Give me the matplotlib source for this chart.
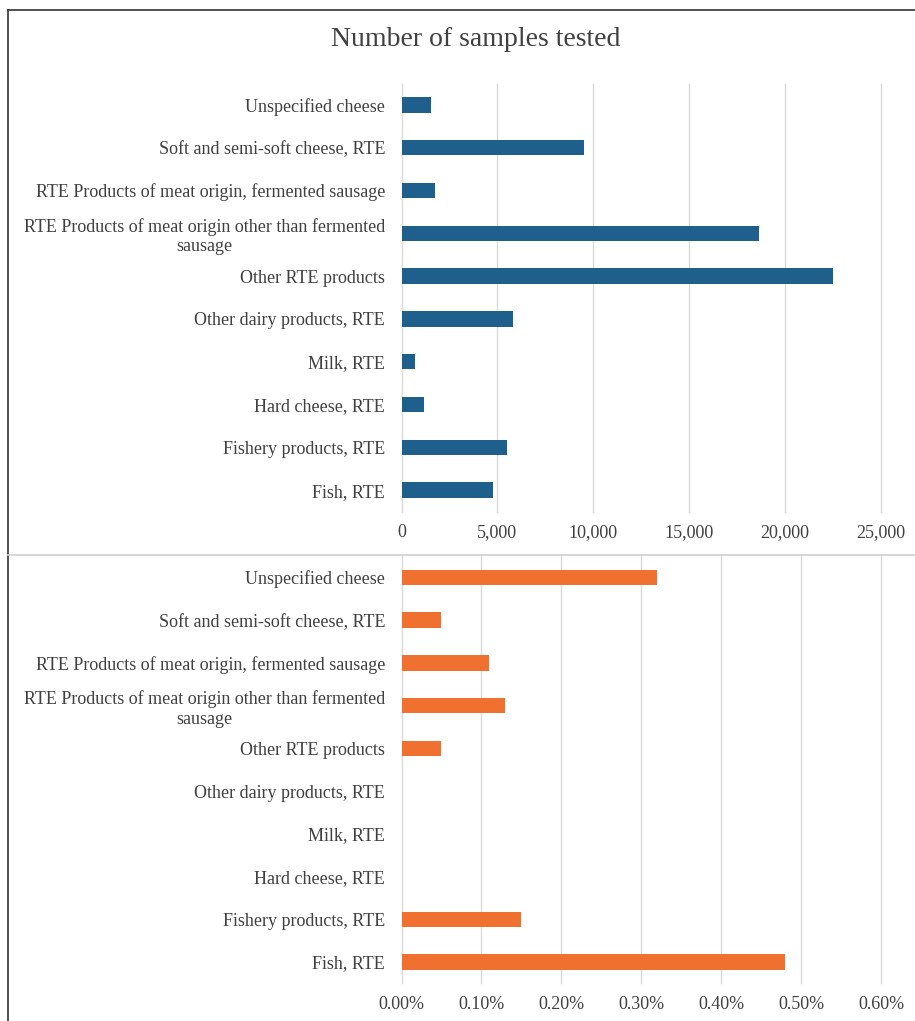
import numpy as np
import matplotlib
matplotlib.use("Agg")
import matplotlib.pyplot as plt
from matplotlib.ticker import FuncFormatter
from matplotlib.lines import Line2D

# categories, bottom to top (as drawn by Excel)
categories = [
    "Fish, RTE",
    "Fishery products, RTE",
    "Hard cheese, RTE",
    "Milk, RTE",
    "Other dairy products, RTE",
    "Other RTE products",
    "RTE Products of meat origin other than fermented\nsausage",
    "RTE Products of meat origin, fermented sausage",
    "Soft and semi-soft cheese, RTE",
    "Unspecified cheese",
]
samples_tested = [4770, 5500, 1180, 730, 5800, 22500, 18650, 1760, 9540, 1560]
positive_pct = [0.48, 0.15, 0.0, 0.0, 0.0, 0.05, 0.13, 0.11, 0.05, 0.32]

plt.rcParams['font.family'] = ['Liberation Serif', 'DejaVu Serif']
txt = '#404040'
grid_c = '#d9d9d9'

fig = plt.figure(figsize=(9.15, 10.21), dpi=100)

ax1 = fig.add_axes([0.4388, 0.4990, 0.5235, 0.4192])
ax2 = fig.add_axes([0.4388, 0.0368, 0.5240, 0.4186])

y = np.arange(len(categories))
ax1.barh(y, samples_tested, height=0.36, color='#1f5f8b', zorder=3)
ax2.barh(y, positive_pct, height=0.36, color='#f07030', zorder=3)

ax1.set_xlim(0, 25000)
ax1.set_xticks(np.arange(0, 25001, 5000))
ax1.xaxis.set_major_formatter(FuncFormatter(lambda v, p: f"{v:,.0f}"))

ax2.set_xlim(0, 0.6)
ax2.set_xticks(np.arange(0, 0.61, 0.1))
ax2.xaxis.set_major_formatter(FuncFormatter(lambda v, p: f"{v:.2f}%"))

for ax in (ax1, ax2):
    ax.set_ylim(-0.5, len(categories) - 0.5)
    ax.set_yticks(y)
    ax.set_yticklabels(categories, fontsize=13, color=txt)
    for lab in ax.get_yticklabels():
        lab.set_multialignment('center')
    ax.tick_params(axis='y', length=0, pad=16.5 * 72 / 100)
    ax.tick_params(axis='x', length=0, labelsize=13, labelcolor=txt, pad=9)
    ax.xaxis.grid(True, color=grid_c, linewidth=1, zorder=0)
    for gl in ax.xaxis.get_gridlines():
        gl.set_clip_on(False)
    for s in ax.spines.values():
        s.set_visible(False)

fig.text(0.52, 0.9615, "Number of samples tested", ha='center', va='center',
         fontsize=20, color=txt)

# outer frame and separator
fig.add_artist(Line2D([0.0087, 0.0087], [0.0, 0.9902], color='#333333', lw=1.2))
fig.add_artist(Line2D([0.0087, 1.0], [0.9902, 0.9902], color='#333333', lw=1.2))
fig.add_artist(Line2D([0.0087, 1.0], [0.4564, 0.4564], color='#d0d0d0', lw=1.2))

fig.savefig("out.png", dpi=100)
